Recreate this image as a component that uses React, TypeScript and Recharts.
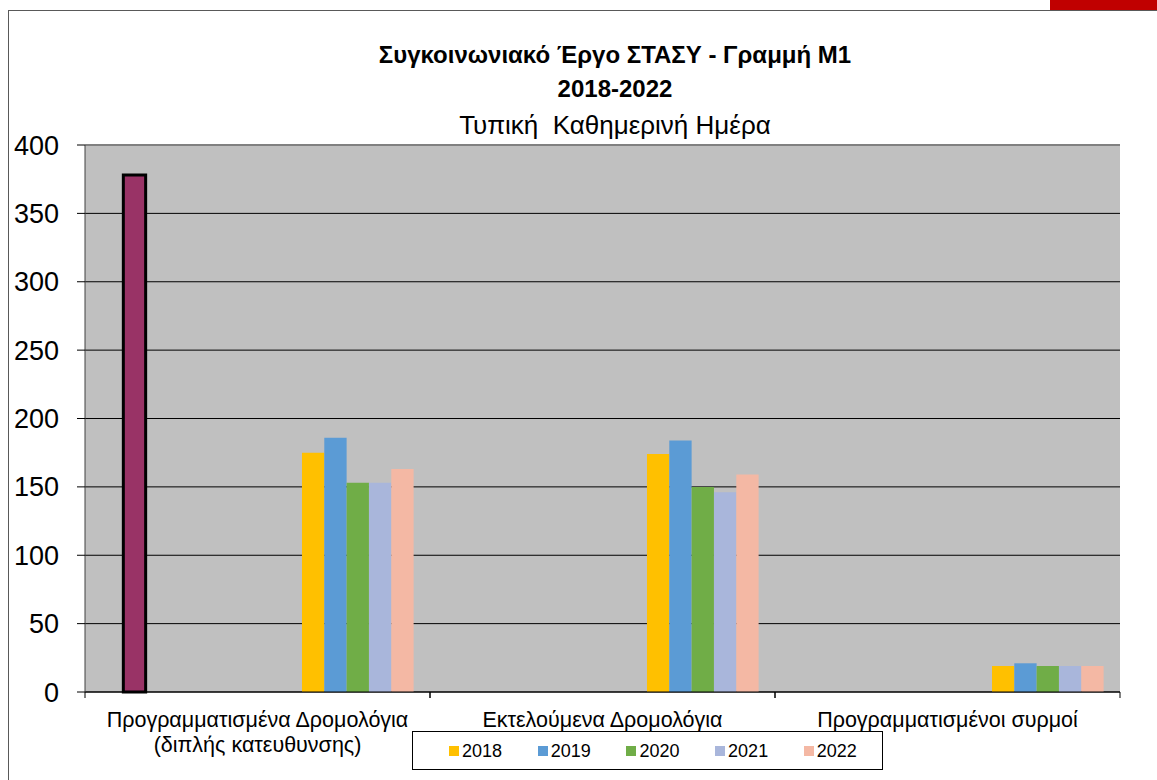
import React from "react";
import { BarChart, Bar, XAxis, YAxis, CartesianGrid, ReferenceLine } from "recharts";

const categories = [
  "Προγραμματισμένα Δρομολόγια\n(διπλής κατευθυνσης)",
  "Εκτελούμενα Δρομολόγια",
  "Προγραμματισμένοι συρμοί",
];
const years = ["2018", "2019", "2020", "2021", "2022"];
const olderValues = [378, null, null];
const values2018 = [175, 174, 19];
const values2019 = [186, 184, 21];
const values2020 = [153, 150, 19];
const values2021 = [153, 146, 19];
const values2022 = [163, 159, 19];
const yTicks = [0, 50, 100, 150, 200, 250, 300, 350, 400];

const yearColors = ["#FFC000", "#5B9BD5", "#70AD47", "#A9B6DB", "#F4B8A4"];
const yearSeries = [values2018, values2019, values2020, values2021, values2022];

const data = categories.map((name, i) => {
  const row: Record<string, string | number | null> = { name, older: olderValues[i] };
  years.forEach((y, k) => {
    row["y" + y] = yearSeries[k][i];
  });
  return row;
});

// empty slots that Excel keeps for series with no data
const emptySlotsBefore = ["e0"];
const emptySlotsAfter = ["e2", "e3", "e4", "e5", "e6", "e7", "e8"];

const FONT = "'Liberation Sans', Arial, sans-serif";
const HALF_BAND = 172.5;

const CategoryTick = (props: any) => {
  const { x, y, payload } = props;
  const lines = String(payload.value).split("\n");
  return (
    <g>
      <line x1={x - HALF_BAND} x2={x - HALF_BAND} y1={y} y2={y + 6} stroke="#000" />
      <line x1={x + HALF_BAND} x2={x + HALF_BAND} y1={y} y2={y + 6} stroke="#000" />
      {lines.map((l, i) => (
        <text key={i} x={x} y={y + 35 + i * 25} textAnchor="middle" fontSize={21.5} fill="#000" fontFamily={FONT}>
          {l}
        </text>
      ))}
    </g>
  );
};

export default function App() {
  return (
    <div style={{ position: "absolute", left: 0, top: 0, width: 1157, height: 780, background: "#fff", fontFamily: FONT, overflow: "hidden" }}>
      <div style={{ position: "absolute", left: 1050, top: 0, width: 107, height: 10, background: "#C00000" }} />
      <div style={{ position: "absolute", left: 8, top: 10, width: 1157, height: 780, borderTop: "1px solid #595959", borderLeft: "1px solid #595959" }} />
      <div style={{ position: "absolute", left: 0, top: 0 }}>
        <BarChart
          width={1157}
          height={780}
          data={data}
          margin={{ top: 145, right: 37, bottom: 0, left: 0 }}
          barSize={22.33}
          barGap={0}
        >
          <CartesianGrid vertical={false} stroke="#000" fill="#C0C0C0" fillOpacity={1} />
          <XAxis
            dataKey="name"
            height={88}
            tick={<CategoryTick />}
            tickLine={false}
            tickSize={0}
            tickMargin={0}
            axisLine={{ stroke: "#000" }}
            interval={0}
          />
          <YAxis
            width={85}
            domain={[0, 400]}
            ticks={yTicks}
            tickSize={8}
            tickMargin={18}
            tick={{ fontSize: 27, fill: "#000", fontFamily: FONT }}
            tickLine={{ stroke: "#000" }}
            axisLine={{ stroke: "#404040" }}
          />
          <YAxis yAxisId="r" orientation="right" width={0} tick={false} tickLine={false} axisLine={{ stroke: "#808080", strokeWidth: 2 }} />
          <ReferenceLine y={400} stroke="#808080" strokeWidth={2} />
          {emptySlotsBefore.map((k) => (
            <Bar key={k} dataKey={k} fill="none" isAnimationActive={false} />
          ))}
          <Bar dataKey="older" fill="#993366" stroke="#000" strokeWidth={3} isAnimationActive={false} />
          {emptySlotsAfter.map((k) => (
            <Bar key={k} dataKey={k} fill="none" isAnimationActive={false} />
          ))}
          {years.map((y, k) => (
            <Bar key={y} dataKey={"y" + y} name={y} fill={yearColors[k]} isAnimationActive={false} />
          ))}
        </BarChart>
      </div>
      <svg width={1157} height={150} style={{ position: "absolute", left: 0, top: 0, pointerEvents: "none" }}>
        <text x={615} y={63} textAnchor="middle" fontSize={24} fontWeight="bold" fontFamily={FONT} fill="#000">
          Συγκοινωνιακό Έργο ΣΤΑΣΥ - Γραμμή Μ1
        </text>
        <text x={615} y={97} textAnchor="middle" fontSize={24} fontWeight="bold" fontFamily={FONT} fill="#000">
          2018-2022
        </text>
        <text x={615} y={134} textAnchor="middle" fontSize={26} fontFamily={FONT} fill="#000" style={{ whiteSpace: "pre" }}>
          {"Τυπική  Καθημερινή Ημέρα"}
        </text>
      </svg>
      <div
        style={{
          position: "absolute",
          left: 412,
          top: 731,
          width: 471,
          height: 39,
          border: "1px solid #000",
          background: "#fff",
          boxSizing: "border-box",
        }}
      >
        {years.map((y, k) => (
          <div
            key={y}
            style={{ position: "absolute", left: 36 + k * 88.7, top: 0, height: 38, display: "flex", alignItems: "center", fontSize: 18, color: "#000" }}
          >
            <span style={{ display: "inline-block", width: 10, height: 10, background: yearColors[k], marginRight: 3 }} />
            {y}
          </div>
        ))}
      </div>
    </div>
  );
}
